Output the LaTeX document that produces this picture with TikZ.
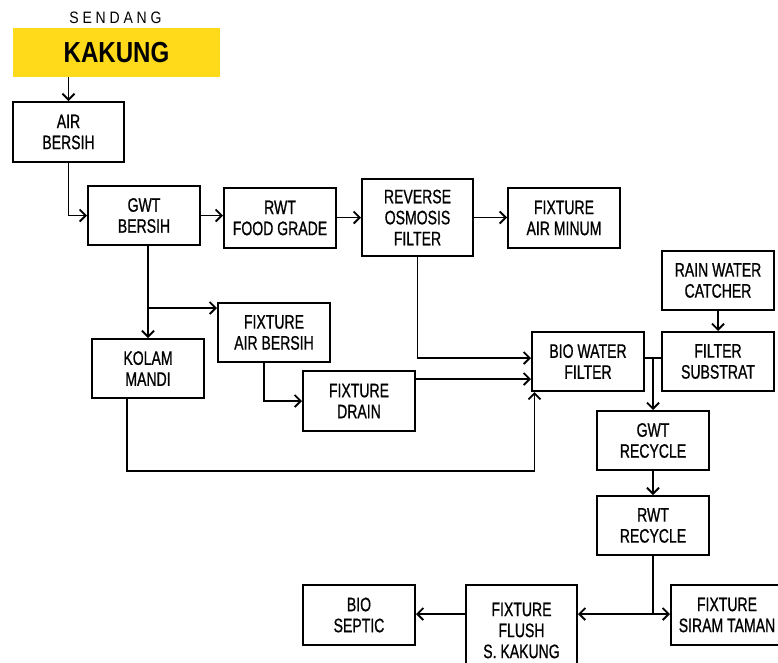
\documentclass[tikz,border=0pt]{standalone}
\usepackage{fontspec}
\setmainfont[FakeStretch=0.72,FakeBold=0.8]{Liberation Sans}
\newfontfamily\headfont[FakeStretch=0.83]{Liberation Sans}
\newfontfamily\subheadfont[FakeStretch=0.85]{Liberation Sans}
\usetikzlibrary{arrows.meta,calc}
\definecolor{signyellow}{RGB}{255,218,26}
\begin{document}
\begin{tikzpicture}[x=1pt,y=-1pt,
  stage/.style={draw=black,line width=2pt,inner sep=0pt,align=center,
    minimum width=112pt,minimum height=60pt,
    font=\fontsize{19.5}{21}\selectfont},
  flow/.style={line width=1.9pt,-{Straight Barb[length=6pt,width=12pt,line width=1.9pt]}},
  pipe/.style={line width=1.9pt}]
\useasboundingbox (0,0) rectangle (778,662);

% heading
\node[font=\subheadfont\fontsize{16.5}{18}\selectfont] (sendang) at (115.5,17.5)
  {S\kern3.8pt E\kern3.8pt N\kern3.8pt D\kern3.8pt A\kern3.8pt N\kern3.8pt G};
\node[fill=signyellow,minimum width=207pt,minimum height=49pt,inner sep=0pt,
  font=\headfont\bfseries\fontsize{29}{30}\selectfont] (kakung) at (116.5,52.5) {KAKUNG};

% clean water chain
\node[stage,minimum width=111pt] (air) at (68.5,132) {AIR\\BERSIH};
\node[stage,minimum height=59pt] (gwtb) at (144,215.5) {GWT\\BERSIH};
\node[stage] (rwtf) at (280,218) {RWT\\FOOD GRADE};
\node[stage,minimum width=111pt,minimum height=77pt] (ro) at (417.5,217.5) {REVERSE\\OSMOSIS\\FILTER};
\node[stage] (minum) at (564,218) {FIXTURE\\AIR MINUM};

% use points
\node[stage,minimum height=59pt] (kolam) at (148,368.5) {KOLAM\\MANDI};
\node[stage,minimum height=59pt] (fab) at (274,332.5) {FIXTURE\\AIR BERSIH};
\node[stage] (drain) at (359,401) {FIXTURE\\DRAIN};

% recycling
\node[stage,minimum height=59pt] (bwf) at (588,361.5) {BIO WATER\\FILTER};
\node[stage,minimum height=59pt] (rain) at (718,280.5) {RAIN WATER\\CATCHER};
\node[stage,minimum height=59pt] (fsub) at (718,361.5) {FILTER\\SUBSTRAT};
\node[stage,minimum height=59pt] (gwtr) at (653,440.5) {GWT\\RECYCLE};
\node[stage,minimum height=59pt] (rwtr) at (653,525.5) {RWT\\RECYCLE};
\node[stage] (septic) at (359,615) {BIO\\SEPTIC};
\node[stage,minimum width=111pt,minimum height=95pt] (flush) at (521.5,632.5) {};
\node[font=\fontsize{19.5}{21}\selectfont,align=center,inner sep=0pt] (flushtext)
  at (521.5,630.5) {FIXTURE\\FLUSH\\S. KAKUNG};
\node[stage] (siram) at (727,615) {FIXTURE\\SIRAM TAMAN};

% junction points
\coordinate (fabIn) at ($(fab.north west)+(0,6)$);
\coordinate (fabOut) at ($(fab.south)+(-10,0)$);
\coordinate (bwfIn1) at ($(bwf.west)+(0,-3.5)$);
\coordinate (bwfIn2) at ($(bwf.west)+(0,17.5)$);
\coordinate (bwfIn3) at ($(bwf.south west)+(3.5,0)$);
\coordinate (bwfOut) at ($(bwf.east)+(0,-3.5)$);
\coordinate (kolamOut) at ($(kolam.south)+(-21,0)$);
\coordinate (tee) at ($(rwtr.south)+(0,58)$);

% connectors
\draw[flow] (air.north |- kakung.south) -- (air.north);
\draw[flow] (air.south) |- (gwtb.west);
\draw[flow] (gwtb.east) -- (gwtb.east -| rwtf.west);
\draw[flow] (rwtf.east |- ro.west) -- (ro.west);
\draw[flow] (ro.east) -- (ro.east -| minum.west);
\draw[flow] (kolam.north |- gwtb.south) -- (kolam.north);
\draw[flow] (kolam.north |- fabIn) -- (fabIn);
\draw[flow] (fabOut) |- (drain.west);
\draw[flow] (ro.south) |- (bwfIn1);
\draw[flow] (drain.east |- bwfIn2) -- (bwfIn2);
\draw[flow] (kolamOut) |- ($(bwfIn3)+(0,79)$) -- (bwfIn3);
\draw[pipe] (bwfOut) -- (bwfOut -| fsub.west);
\draw[flow] (bwfOut -| gwtr.north) -- (gwtr.north);
\draw[flow] (rain.south) -- (fsub.north);
\draw[flow] (gwtr.south) -- (rwtr.north);
\draw[pipe] (rwtr.south) -- (tee);
\draw[flow] (tee) -- (tee -| flush.east);
\draw[flow] (tee) -- (tee -| siram.west);
\draw[flow] (tee -| flush.west) -- (tee -| septic.east);
\end{tikzpicture}
\end{document}
